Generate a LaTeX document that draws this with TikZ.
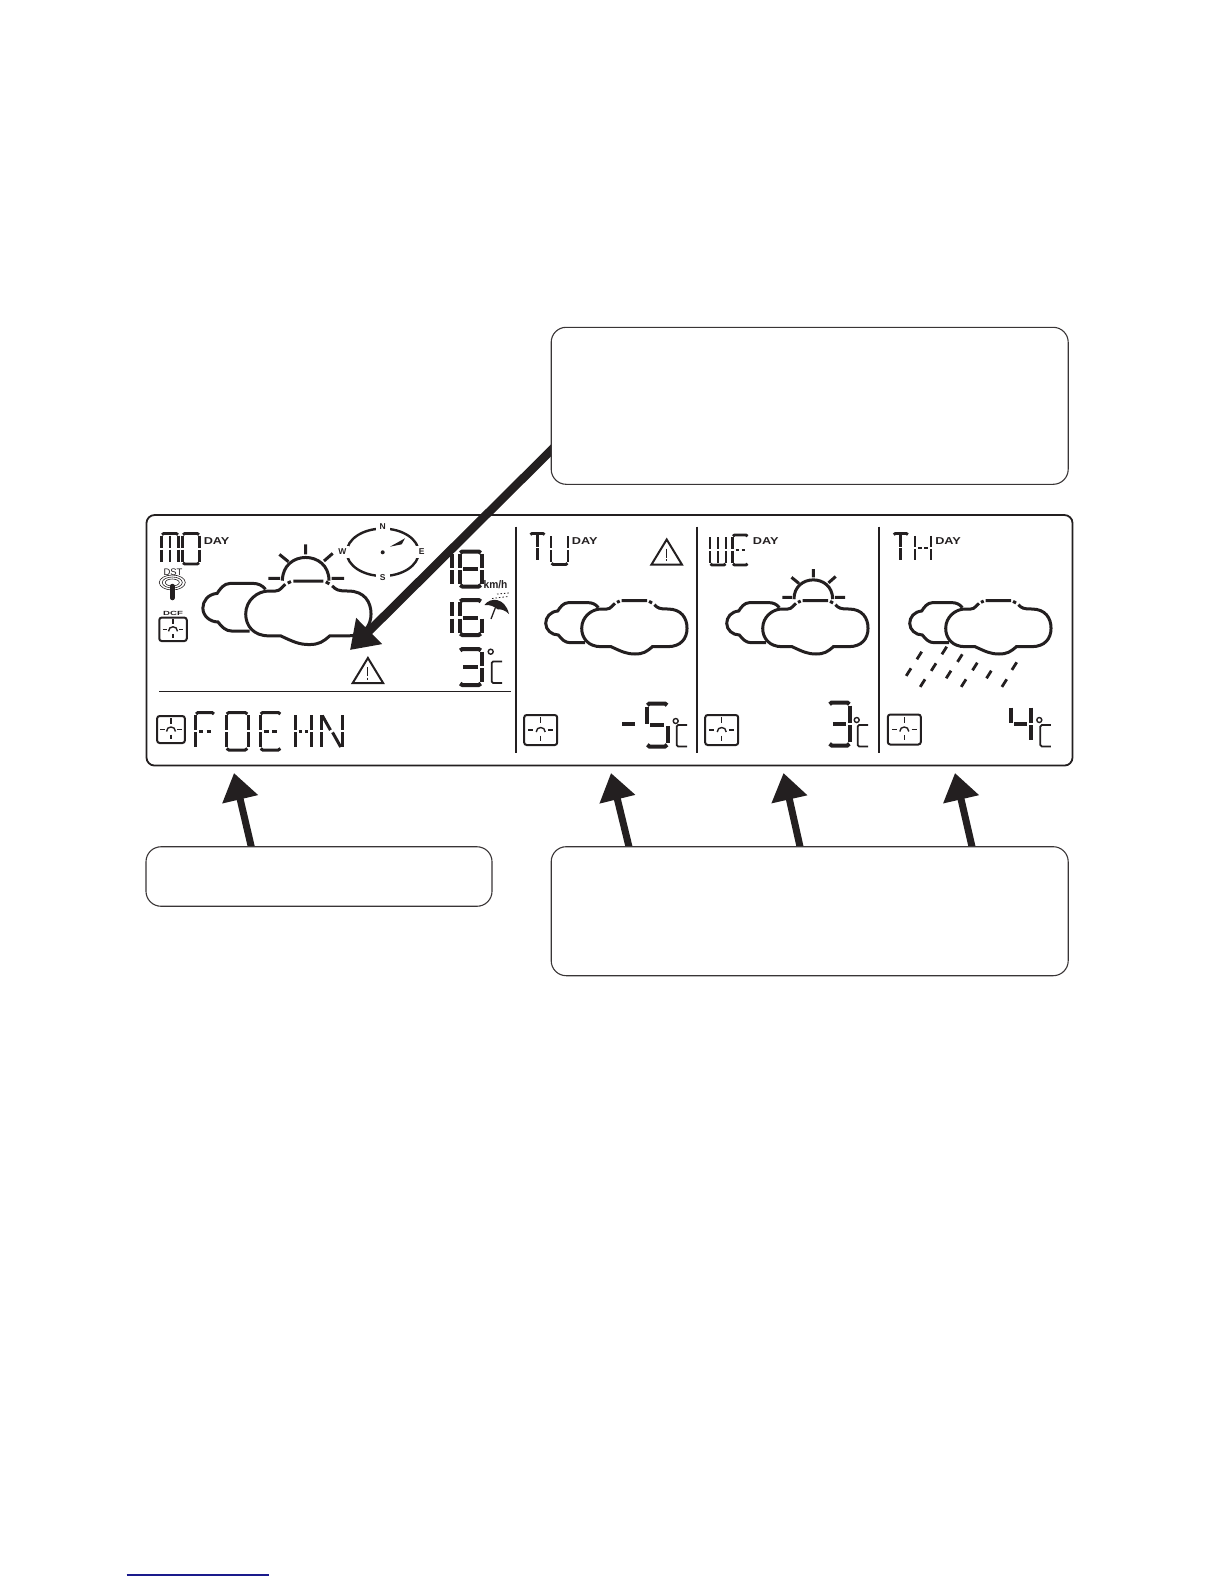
\documentclass[tikz,border=0pt]{standalone}
\usepackage{fontspec}
\setmainfont{Liberation Sans}
\usetikzlibrary{arrows.meta,backgrounds,shapes.geometric}
\definecolor{ink}{HTML}{231F20}
\definecolor{navy}{HTML}{1A1A8C}
% display segments, unit square
\newcommand{\sga}{\draw[sg] (0.03,0.04) -- (0.13,0) -- (0.87,0) -- (0.97,0.04);}
\newcommand{\sgd}{\draw[sg] (0.03,0.96) -- (0.13,1) -- (0.87,1) -- (0.97,0.96);}
\newcommand{\sgf}{\draw[sg] (0,0.07) -- (0,0.47);}
\newcommand{\sge}{\draw[sg] (0,0.53) -- (0,0.93);}
\newcommand{\sgb}{\draw[sg] (1,0.07) -- (1,0.47);}
\newcommand{\sgc}{\draw[sg] (1,0.53) -- (1,0.93);}
\newcommand{\sgg}{\draw[sg] (0.18,0.5) -- (0.82,0.5);}
\newcommand{\sgm}{\draw[sg] (0.2,0.5) -- (0.42,0.5) (0.58,0.5) -- (0.8,0.5);}
\newcommand{\sgh}{\draw[sg] (0.5,0.07) -- (0.5,0.47);}
\newcommand{\sgi}{\draw[sg] (0.5,0.53) -- (0.5,0.93);}
\newcommand{\sgn}{\draw[sg] (0.06,0.08) -- (0.45,0.47);}
\newcommand{\sgp}{\draw[sg] (0.55,0.53) -- (0.94,0.92);}
\newcommand{\Dg}[6]{\begin{scope}[shift={(#1,#2)},x=#3pt,y=-#4pt,line width=#5pt]
  \foreach \s in {#6}{\csname sg\s\endcsname}
\end{scope}}
\newcommand{\Cld}[3]{\begin{scope}[shift={(#1,#2)},x=0.3333pt,y=-0.3333pt,scale=#3]
  \draw[cl] (50,23) .. controls (42,12) and (30,8) .. (20,8) -- (-40,8) .. controls (-55,8) and (-65,22) .. (-72,33) .. controls (-95,35) and (-108,52) .. (-108,70) .. controls (-108,90) and (-90,105) .. (-70,105) .. controls (-60,118) and (-50,128) .. (-35,128) -- (10,128);
  \draw[cl] (218,14) .. controls (228,24) and (232,27) .. (258,27) .. controls (300,27) and (316,55) .. (316,85) .. controls (316,115) and (298,140) .. (258,140) -- (212,140) .. controls (195,155) and (185,162) .. (160,162) .. controls (135,162) and (120,155) .. (88,140) -- (58,140) .. controls (20,140) and (0,115) .. (0,85) .. controls (0,50) and (30,27) .. (58,27) -- (75,27) .. controls (88,27) and (92,15) .. (100,10);
  \draw[cl] (106,7) -- (114,3) (120,2) -- (196,2) (202,4) -- (211,9);
\end{scope}}
\newcommand{\Sun}[3]{\begin{scope}[shift={(#1,#2)},scale=#3]
  \draw[cl] (-23.3,-1) .. controls (-23.3,-32) and (23.3,-32) .. (23.3,-1);
  \draw[cl] (0,-37.3) -- (0,-27.3) (-26.3,-27.3) -- (-17.3,-20) (27,-28.3) -- (18.3,-20.7) (-37.3,-3.3) -- (-25.7,-3.3) (26,-3.3) -- (38.3,-3.3);
\end{scope}}
\newcommand{\Clk}[4]{\begin{scope}[shift={(#1,#2)}]
  \draw[ink, line width=2pt, rounded corners=2.5pt] (-#3/2,-#4/2) rectangle (#3/2,#4/2);
  \draw[ink, line width=1.1pt] (0,-#4*0.42) -- (0,-#4*0.22) (0,#4*0.19) -- (0,#4*0.35) (-#3*0.38,0) -- (-#3*0.22,0) (#3*0.22,0) -- (#3*0.38,0);
  \draw[ink, line width=1.4pt] (-4.5,2) .. controls (-4.5,-4) and (4.5,-4) .. (4.5,2);
\end{scope}}
\newcommand{\Deg}[3]{
  \draw[ink, line width=1.4pt] (#1,#2) circle[radius=2.5];
  \draw[ink, line width=1.8pt] (#1+11.5,#3) -- (#1+2.5,#3) -- (#1+1,#3+1.5) -- (#1+1,#3+20) -- (#1+2.5,#3+21.5) -- (#1+11.5,#3+21.5);
}
\newcommand{\Warn}[2]{
  \draw[ink, line width=2pt, line join=miter] (#1,#2) -- (#1-15.2,#2+25) -- (#1+15.2,#2+25) -- cycle;
  \draw[ink, line width=1pt] (#1,#2+9) -- (#1,#2+18) (#1,#2+19.5) -- (#1,#2+21.5);
}
\begin{document}
\begin{tikzpicture}[x=1pt,y=-1pt,
  box/.style={draw=ink!90, line width=1.1pt, fill=white, rounded corners=15pt, inner sep=0pt, outer sep=0pt},
  panelbox/.style={draw=ink, line width=1.8pt, rounded corners=8pt, inner sep=0pt, outer sep=0pt},
  arr/.style={-{Triangle[length=27pt,width=35pt]}, draw=ink, fill=ink, line width=7pt},
  sg/.style={draw=ink},
  cl/.style={draw=ink, line width=3pt},
  dayl/.style={font=\fontsize{10}{10}\selectfont\bfseries, text=ink, xscale=1.27, transform shape, anchor=west, inner sep=0pt},
  sep/.style={draw=ink, line width=1.2pt},
  dirl/.style={font=\fontsize{8.5}{8}\selectfont\bfseries, text=ink, fill=white, inner sep=0pt, minimum width=14pt, minimum height=12pt}
]
\useasboundingbox (0,0) rectangle (1224,1584);
\node[panelbox, minimum width=926pt, minimum height=250.5pt] (panel) at (609.5,640.3) {};
\draw[sep] (516,526.7) -- (516,753.3);
\draw[sep] (697,526.7) -- (697,753.3);
\draw[sep, line width=1.7pt] (879,526.7) -- (879,753.3);
\draw[sep, line width=1pt] (159.3,691) -- (510.7,691);
% monday
\Dg{161.5}{533.5}{17}{30.5}{2.8}{a,f,e,b,c,h,i}
\Dg{182.5}{533.5}{17}{30.5}{2.8}{a,f,e,b,c,d}
\node[dayl] (daymo) at (203.5,541) {DAY};
\node[font=\fontsize{9.5}{9}\selectfont, text=ink, inner sep=0pt] (dst) at (173,572.5) {DST};
\draw[ink, line width=0.6pt] (172.3,582.5) ellipse[x radius=13, y radius=7.5] ellipse[x radius=10, y radius=5.5] ellipse[x radius=7, y radius=3.5];
\draw[ink, line width=4.5pt, line cap=round] (172.3,586) -- (172.3,598);
\node[font=\fontsize{6}{5}\selectfont\bfseries, text=ink, xscale=1.6, transform shape, inner sep=0pt] (dcf) at (173,613) {DCF};
\Clk{173}{629.3}{27.5}{23.5}
\Sun{305.7}{581.7}{1}
\Cld{245.7}{580.3}{1.19}
\draw[ink, line width=2.4pt] (382.7,552.3) ellipse[x radius=36, y radius=23.7];
\node[dirl] (north) at (382.7,526.7) {N};
\node[dirl] (south) at (382.7,577.7) {S};
\node[dirl] (west) at (342.3,551.7) {W};
\node[dirl] (east) at (421.7,551.7) {E};
\fill[ink] (382.7,552.3) circle[radius=2];
\fill[ink] (390,546.7) -- (405,538.3) -- (401.7,544.3) -- cycle;
\Dg{452.3}{551.5}{0}{35}{4}{f,e}
\Dg{459.5}{551.5}{22}{35}{4}{a,f,e,b,c,d,g}
\node[font=\fontsize{11}{11}\selectfont\bfseries, text=ink, xscale=0.93, transform shape, inner sep=0pt] (kmh) at (495.5,584.5) {km/h};
\Dg{452.3}{600}{0}{35}{4}{f,e}
\Dg{459.5}{600}{22}{35}{4}{a,f,e,c,d,g}
\fill[ink] (484.5,605) .. controls (490,597) and (505,597) .. (509,614) .. controls (505,610) and (501,609) .. (498,609.5) .. controls (494,606) and (489,604.5) .. (484.5,605) -- cycle;
\draw[ink, line width=1.3pt] (496,606) -- (491,619);
\draw[ink, line width=0.8pt, dash pattern=on 1.5pt off 2pt] (492,598.5) -- (508,596.5) (497,594) -- (509,593);
\Dg{459.5}{649}{22}{36}{4}{a,b,c,d,g}
\Deg{490.7}{651.7}{661.5}
\Warn{367.9}{658}
% day line
\Clk{171}{729.5}{27.7}{27}
\Dg{195.5}{712.5}{19}{37.5}{3}{a,f,e,m}
\Dg{226}{712.5}{22}{37.5}{3}{a,f,e,b,c,d}
\Dg{260}{712.5}{21}{37.5}{3}{a,f,e,d,m}
\Dg{295.5}{712.5}{16}{37.5}{3}{f,e,b,c,m}
\Dg{321}{712.5}{21}{37.5}{3}{f,e,b,c,n,p}
% tuesday
\Dg{530}{533.5}{15}{28}{2.8}{a,h,i}
\Dg{551}{534}{17}{30.5}{2.8}{f,e,b,c,d}
\node[dayl] (daytu) at (571.7,541) {DAY};
\Warn{666.7}{539.5}
\Cld{581.7}{600}{1}
\Clk{540.7}{730}{33}{30}
\draw[ink, line width=4.5pt] (622.3,724) -- (635,724);
\Dg{646.7}{703.5}{21}{43}{4}{a,f,g,c,d}
\Deg{675.7}{721}{725}
% wednesday
\Dg{710}{535}{16}{30}{2.8}{f,e,b,c,d,h,i}
\Dg{732.5}{535}{15.5}{30}{2.8}{a,f,e,d,m}
\node[dayl] (daywe) at (752.7,541) {DAY};
\Sun{813.3}{600}{0.83}
\Cld{762.7}{600}{1}
\Clk{721.7}{730}{33}{30}
\Dg{829}{702.5}{21}{43}{4}{a,b,c,d,g}
\Deg{856.7}{720}{725}
% thursday
\Dg{893.3}{533.5}{15}{28}{2.8}{a,h,i}
\Dg{915}{534}{16}{28}{2.8}{f,e,b,c,m}
\node[dayl] (dayth) at (935,541) {DAY};
\Cld{945.7}{600}{1}
\foreach \px/\py in {921.7/651.7,946.7/646.7,962.3/654.3,936/663.3,977.3/662.7,911/668.3,951/670.7,991.3/670.7,1016.7/662.3,925/679.3,966/679.3,1006.7/679.3}
  \draw[ink, line width=2.8pt] (\px,\py) -- ++(-4.8,7.6);
\Clk{904.3}{729.5}{33}{30}
\Dg{1010.5}{705}{20.5}{38}{4}{f,g,b,c}
\Deg{1039.3}{720}{725}
% call-outs
\coordinate (tipwarn) at (350,650);
\coordinate (tipfoehn) at (234,773);
\coordinate (tiptu) at (611,773);
\coordinate (tipwe) at (783.5,773);
\coordinate (tipth) at (955,773);
\node[box, minimum width=517pt, minimum height=157pt] (upper) at (809.7,405.8) {};
\node[box, minimum width=346pt, minimum height=59.5pt] (lowleft) at (319,876.5) {};
\node[box, minimum width=517pt, minimum height=129pt] (lowright) at (809.7,911.2) {};
\begin{scope}[on background layer]
\draw[arr, line width=8.5pt] ([shift={(8pt,42pt)}]upper.south west) -- (tipwarn);
\draw[arr] ([shift={(106pt,-3pt)}]lowleft.north west) -- (tipfoehn);
\draw[arr] ([shift={(78.5pt,-3pt)}]lowright.north west) -- (tiptu);
\draw[arr] ([shift={(249.5pt,-3pt)}]lowright.north west) -- (tipwe);
\draw[arr] ([shift={(421.5pt,-3pt)}]lowright.north west) -- (tipth);
\end{scope}
\draw[navy, line width=1.1pt] (126.7,1575) -- (269,1575);
\end{tikzpicture}
\end{document}
